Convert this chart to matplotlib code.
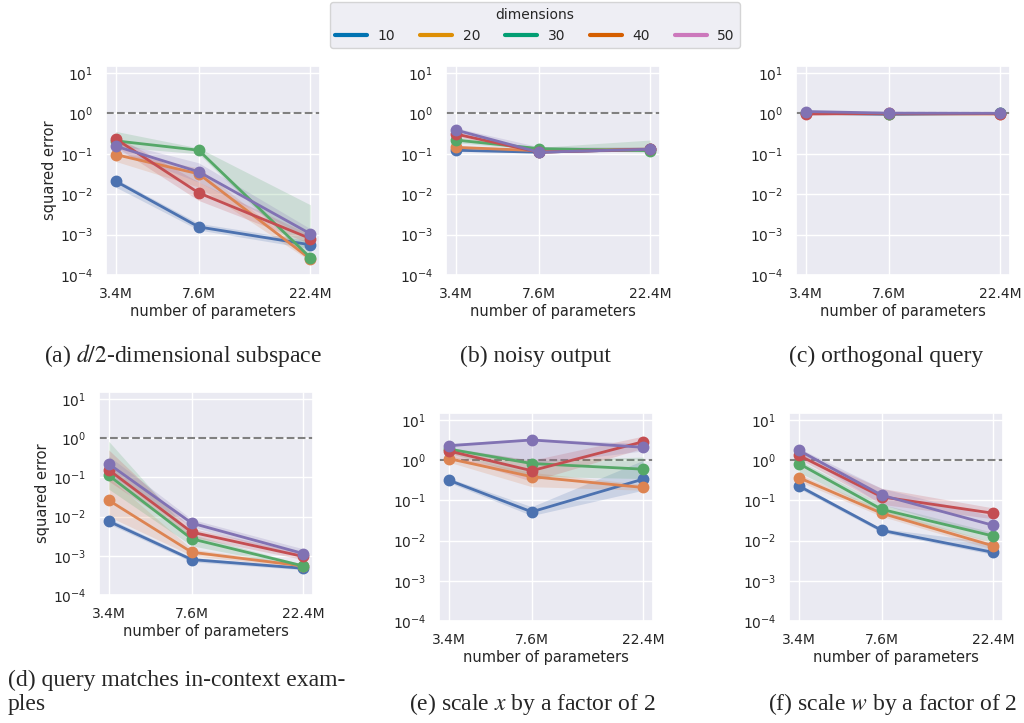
import numpy as np
import matplotlib
matplotlib.use("Agg")
import matplotlib.pyplot as plt
import seaborn as sns
from matplotlib.ticker import NullLocator
from matplotlib.lines import Line2D

sns.set_theme(style="darkgrid")
plt.rcParams['font.family'] = ['DejaVu Sans']

params = [3.4, 7.6, 22.4]
param_labels = ["3.4M", "7.6M", "22.4M"]
dims = ["10", "20", "30", "40", "50"]

# mean, lower, upper per panel (rows = dims 10..50, cols = 3.4M, 7.6M, 22.4M)
a_mean = [[0.021, 0.00155, 0.00056],
          [0.096, 0.032, 0.00025],
          [0.21, 0.123, 0.00027],
          [0.235, 0.0108, 0.0008],
          [0.155, 0.036, 0.00105]]
a_lo = [[0.015, 0.0013, 0.00045],
        [0.065, 0.015, 0.00022],
        [0.15, 0.1, 0.00022],
        [0.15, 0.007, 0.0006],
        [0.12, 0.02, 0.0008]]
a_hi = [[0.024, 0.0019, 0.0007],
        [0.11, 0.045, 0.0003],
        [0.36, 0.14, 0.0055],
        [0.28, 0.02, 0.001],
        [0.2, 0.06, 0.0014]]

b_mean = [[0.123, 0.11, 0.13],
          [0.145, 0.12, 0.13],
          [0.22, 0.135, 0.12],
          [0.31, 0.11, 0.13],
          [0.39, 0.11, 0.13]]
b_lo = [[0.115, 0.105, 0.12],
        [0.13, 0.11, 0.12],
        [0.19, 0.125, 0.11],
        [0.27, 0.105, 0.12],
        [0.34, 0.105, 0.12]]
b_hi = [[0.13, 0.12, 0.14],
        [0.16, 0.13, 0.15],
        [0.26, 0.145, 0.22],
        [0.35, 0.12, 0.15],
        [0.44, 0.15, 0.15]]

c_mean = [[1.02, 0.95, 1.0],
          [1.0, 0.98, 0.97],
          [1.02, 0.99, 1.0],
          [0.97, 1.0, 0.99],
          [1.12, 1.02, 1.01]]
c_lo = [[0.98, 0.92, 0.97],
        [0.97, 0.95, 0.94],
        [0.98, 0.96, 0.97],
        [0.93, 0.97, 0.96],
        [1.06, 0.99, 0.98]]
c_hi = [[1.06, 0.98, 1.03],
        [1.03, 1.01, 1.0],
        [1.06, 1.02, 1.03],
        [1.01, 1.03, 1.02],
        [1.18, 1.05, 1.04]]

d_mean = [[0.0076, 0.0008, 0.00048],
          [0.026, 0.00123, 0.00055],
          [0.112, 0.0027, 0.00055],
          [0.155, 0.004, 0.00096],
          [0.22, 0.0068, 0.00114]]
d_lo = [[0.0065, 0.0007, 0.00044],
        [0.01, 0.001, 0.0005],
        [0.05, 0.0018, 0.0005],
        [0.08, 0.003, 0.0008],
        [0.12, 0.0055, 0.0009]]
d_hi = [[0.009, 0.0009, 0.00052],
        [0.1, 0.0015, 0.0006],
        [0.83, 0.0035, 0.0006],
        [0.5, 0.005, 0.0012],
        [0.35, 0.0085, 0.0015]]

e_mean = [[0.32, 0.052, 0.34],
          [1.1, 0.39, 0.21],
          [1.9, 0.83, 0.6],
          [1.7, 0.55, 2.9],
          [2.3, 3.2, 2.1]]
e_lo = [[0.28, 0.042, 0.18],
        [0.9, 0.22, 0.18],
        [1.5, 0.4, 0.35],
        [1.3, 0.3, 2.0],
        [2.0, 0.8, 1.7]]
e_hi = [[0.36, 0.07, 1.0],
        [1.3, 0.5, 0.25],
        [2.1, 1.0, 1.2],
        [2.0, 1.0, 4.0],
        [2.6, 3.5, 2.6]]

f_mean = [[0.23, 0.018, 0.0051],
          [0.37, 0.048, 0.0074],
          [0.83, 0.06, 0.013],
          [1.33, 0.123, 0.048],
          [1.77, 0.135, 0.024]]
f_lo = [[0.2, 0.016, 0.0045],
        [0.3, 0.04, 0.006],
        [0.5, 0.05, 0.009],
        [1.1, 0.08, 0.035],
        [1.5, 0.08, 0.012]]
f_hi = [[0.26, 0.02, 0.009],
        [0.45, 0.06, 0.009],
        [1.0, 0.08, 0.016],
        [1.6, 0.2, 0.065],
        [2.0, 0.2, 0.04]]

captions = ["(a) $d/2$-dimensional subspace",
            "(b) noisy output",
            "(c) orthogonal query",
            "(d) query matches in-context exam-\nples",
            "(e) scale $x$ by a factor of 2",
            "(f) scale $w$ by a factor of 2"]

line_colors = sns.color_palette("deep")[:5]
legend_colors = sns.color_palette("colorblind")[:5]

W, H = 1024, 723
fig = plt.figure(figsize=(W / 100, H / 100), dpi=100)


def px_axes(left, right, top, bottom):
    return fig.add_axes([left / W, 1 - bottom / H, (right - left) / W, (bottom - top) / H])


panels = [
    (a_mean, a_lo, a_hi, (106, 320, 66, 275), True),
    (b_mean, b_lo, b_hi, (446, 660, 66, 275), False),
    (c_mean, c_lo, c_hi, (796, 1010, 66, 275), False),
    (d_mean, d_lo, d_hi, (99, 313, 392, 595), True),
    (e_mean, e_lo, e_hi, (439, 653, 413, 621), False),
    (f_mean, f_lo, f_hi, (789, 1003, 413, 621), False),
]

for mean, lo, hi, box, ylab in panels:
    ax = px_axes(*box)
    ax.axhline(1.0, color="gray", ls="--", lw=1.5, zorder=1)
    for i in range(5):
        ax.fill_between(params, lo[i], hi[i], color=line_colors[i], alpha=0.2, lw=0)
        ax.plot(params, mean[i], color=line_colors[i], lw=2, marker="o", ms=7.5)
    ax.set_xscale("log")
    ax.set_yscale("log")
    ax.set_ylim(1e-4, 15)
    ax.set_xticks(params)
    ax.set_xticklabels(param_labels)
    ax.xaxis.set_minor_locator(NullLocator())
    ax.set_yticks([1e-4, 1e-3, 1e-2, 1e-1, 1e0, 1e1])
    ax.yaxis.set_minor_locator(NullLocator())
    ax.tick_params(labelsize=10, pad=3)
    ax.set_xlabel("number of parameters", fontsize=10.5, labelpad=2)
    if ylab:
        ax.set_ylabel("squared error", fontsize=10.5, labelpad=2)

cap_pos = [(183, 362, "center"), (535, 362, "center"), (886, 362, "center"),
           (8, 710, "left"), (532, 710, "center"), (893, 710, "center")]
for cap, (x, y, ha) in zip(captions, cap_pos):
    fig.text(x / W, 1 - y / H, cap, ha=ha, va="baseline", fontsize=17,
             family="Liberation Serif", math_fontfamily="stix", linespacing=1.2)

handles = [Line2D([0], [0], color=c, lw=3) for c in legend_colors]
fig.legend(handles, dims, title="dimensions", loc="upper center", ncol=5,
           bbox_to_anchor=(535 / W, 1 - 2 / H), borderaxespad=0,
           fontsize=10, title_fontsize=10, frameon=True,
           handlelength=2.3, handletextpad=0.75, columnspacing=1.8)

fig.savefig("out.png", dpi=100)
